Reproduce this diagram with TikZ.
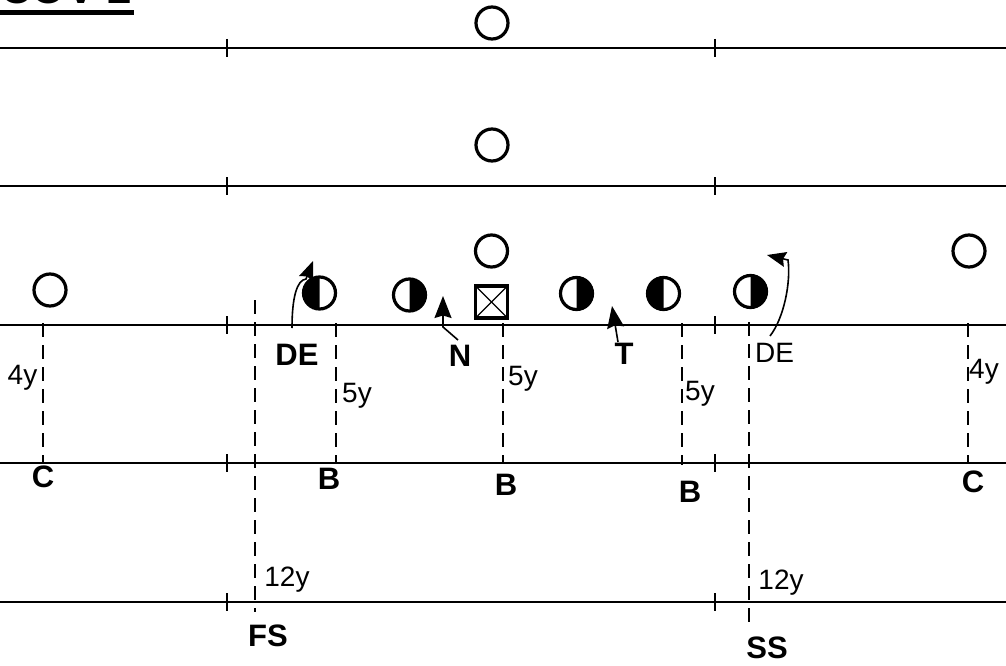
\documentclass[tikz,border=0pt]{standalone}
\usepackage{fontspec}
\setmainfont{Liberation Sans}
\usetikzlibrary{arrows.meta,bending}
\begin{document}
\begin{tikzpicture}[x=1pt,y=-1pt,
  yard/.style={line width=1.6pt},
  tickmark/.style={line width=1.4pt},
  gap/.style={line width=1.5pt, dash pattern=on 14pt off 8pt},
  player/.style={circle, draw, line width=3.2pt, minimum size=32pt, inner sep=0pt},
  bl/.style={font=\fontsize{31}{31}\selectfont\bfseries, inner sep=0pt},
  rl/.style={font=\fontsize{28}{28}\selectfont, inner sep=0pt},
  mv/.style={line width=1.6pt, -{Stealth[length=22pt,width=17pt,inset=2.5pt]}},
  hook/.style={line width=1.6pt, -{Stealth[length=19pt,width=15pt,inset=2.5pt]}},
]
\useasboundingbox (0,0) rectangle (1006,666);
\clip (0,0) rectangle (1006,666);

% title (mostly cut off)
\node[anchor=base west, inner sep=0pt, font=\fontsize{44}{44}\selectfont\bfseries] (title) at (0,4) {COV 2};
\fill (0,10) rectangle (134,15);

% yard lines and ticks
\foreach \yy in {48,186,325,463,602}{
  \draw[yard] (0,\yy) -- (1006,\yy);
  \draw[tickmark] (227,\yy-9) -- (227,\yy+9);
  \draw[tickmark] (715,\yy-9) -- (715,\yy+9);
}

% offense
\node[player] (qb1) at (492,23) {};
\node[player] (qb2) at (492,145) {};
\node[player] (qb3) at (491.5,251) {};
\node[player] (wl) at (50,290) {};
\node[player] (wr) at (969,251) {};
\node[draw, line width=3.2pt, minimum size=32pt, inner sep=0pt] (ctr) at (491.5,302) {};
\draw[line width=1.2pt] (ctr.center) +(-14,-14) -- +(14,14);
\draw[line width=1.2pt] (ctr.center) +(-14,14) -- +(14,-14);

% half-filled linemen
\node[player] (l1) at (319.5,293) {};
\fill (l1.center) ++(0,-16) arc[start angle=90,end angle=270,radius=16pt] -- cycle;
\node[player] (l2) at (409.5,295) {};
\fill (l2.center) ++(0,-16) arc[start angle=90,end angle=-90,radius=16pt] -- cycle;
\node[player] (l3) at (576.5,293.5) {};
\fill (l3.center) ++(0,-16) arc[start angle=90,end angle=-90,radius=16pt] -- cycle;
\node[player] (l4) at (663.5,293.5) {};
\fill (l4.center) ++(0,-16) arc[start angle=90,end angle=270,radius=16pt] -- cycle;
\node[player] (l5) at (750.5,291.5) {};
\fill (l5.center) ++(0,-16) arc[start angle=90,end angle=-90,radius=16pt] -- cycle;

% defensive labels
\node[bl] (de1) at (297,355) {DE};
\node[bl] (n) at (460,356) {N};
\node[bl] (t) at (624,354) {T};
\node[rl] (de2) at (774.5,352.5) {DE};
\node[bl] (c1) at (43,477) {C};
\node[bl] (c2) at (973,482) {C};
\node[bl] (b1) at (329,479) {B};
\node[bl] (b2) at (506,485) {B};
\node[bl] (b3) at (690,492) {B};
\node[bl] (fs) at (268,636) {FS};
\node[bl] (ss) at (767,648) {SS};

% depth labels
\node[rl] (d1) at (22.5,378) {4y};
\node[rl] (d2) at (357,396) {5y};
\node[rl] (d3) at (523,379) {5y};
\node[rl] (d4) at (700,394) {5y};
\node[rl] (d5) at (984,372) {4y};
\node[rl] (d6) at (287,580) {12y};
\node[rl] (d7) at (781,583) {12y};

% depth coordinates
\coordinate (a1) at (43,323);  \coordinate (a2) at (43,463);
\coordinate (b1t) at (336,323); \coordinate (b1b) at (336,463);
\coordinate (b2t) at (503,323); \coordinate (b2b) at (503,463);
\coordinate (b3t) at (682,323); \coordinate (b3b) at (682,465);
\coordinate (c2t) at (968,323); \coordinate (c2b) at (968,463);
\coordinate (fst) at (255,300); \coordinate (fsb) at (255,612);
\coordinate (sst) at (749,322); \coordinate (ssb) at (749,628);
\draw[gap] (a1) -- (a2);
\draw[gap] (b1t) -- (b1b);
\draw[gap] (b2t) -- (b2b);
\draw[gap] (b3t) -- (b3b);
\draw[gap] (c2t) -- (c2b);
\draw[gap] (fst) -- (fsb);
\draw[gap] (sst) -- (ssb);

% movements
\coordinate (de1s) at (292,328); \coordinate (de1m) at (306,279); \coordinate (de1e) at (313,261);
\draw[hook] (de1s) .. controls (292,297) and (297,280) .. (de1m) -- (de1e);
\coordinate (ns) at (458,340); \coordinate (nk) at (443,327); \coordinate (ne) at (443,296);
\draw[mv] (ns) -- (nk) -- (ne);
\coordinate (ts) at (618,342); \coordinate (te) at (612,306);
\draw[mv] (ts) -- (te);
\coordinate (de2s) at (770,336); \coordinate (de2m) at (788,260); \coordinate (de2e) at (767,255);
\draw[hook] (de2s) .. controls (784,318) and (791,282) .. (de2m) -- (de2e);
\end{tikzpicture}
\end{document}
